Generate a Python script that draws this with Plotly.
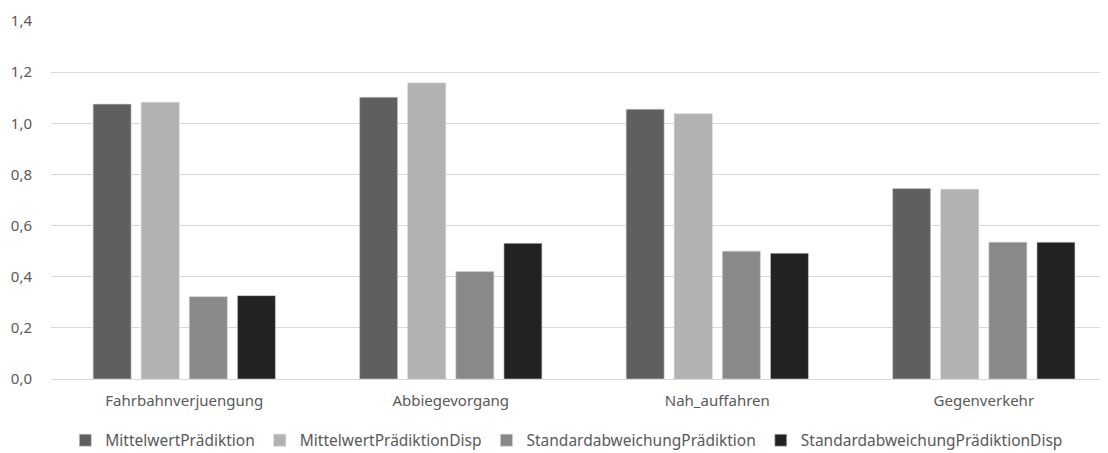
import plotly.graph_objects as go

categories = ["Fahrbahnverjuengung", "Abbiegevorgang", "Nah_auffahren", "Gegenverkehr"]
series_names = ["MittelwertPrädiktion", "MittelwertPrädiktionDisp",
                "StandardabweichungPrädiktion", "StandardabweichungPrädiktionDisp"]
mittelwert = [1.075, 1.102, 1.055, 0.745]
mittelwert_disp = [1.082, 1.158, 1.037, 0.742]
std_abw = [0.322, 0.420, 0.500, 0.535]
std_abw_disp = [0.326, 0.531, 0.492, 0.535]
colors = ["#5f5f5f", "#b2b2b2", "#898989", "#222222"]

fig = go.Figure()
for name, vals, c in zip(series_names, [mittelwert, mittelwert_disp, std_abw, std_abw_disp], colors):
    fig.add_trace(go.Bar(x=categories, y=vals, name=name,
                         marker=dict(color=c, line=dict(color="#d0d0d0", width=0.6))))

fig.update_layout(
    width=1100, height=445,
    margin=dict(l=43, r=0, t=13, b=74, autoexpand=False),
    paper_bgcolor="white", plot_bgcolor="white",
    barmode="group", bargap=0.278, bargroupgap=0.21,
    separators=",.",
    font=dict(family="Noto Sans, Open Sans, sans-serif", size=15, color="#595959"),
    legend=dict(orientation="h", x=0.488, xanchor="center", y=-0.172, yanchor="middle",
                font=dict(size=15.5, color="#595959"), itemwidth=30),
    showlegend=True,
)
fig.update_yaxes(range=[0, 1.4], dtick=0.2, tickformat=".1f", showgrid=True,
                 gridcolor="#d9d9d9", gridwidth=1, zeroline=False,
                 showline=False, ticks="", ticklabelstandoff=18, automargin=False)
fig.update_xaxes(range=[-0.5, 3.466], showline=True, linecolor="#d9d9d9", linewidth=1,
                 ticks="", ticklabelstandoff=8, automargin=False)

fig.write_html("out.html")
